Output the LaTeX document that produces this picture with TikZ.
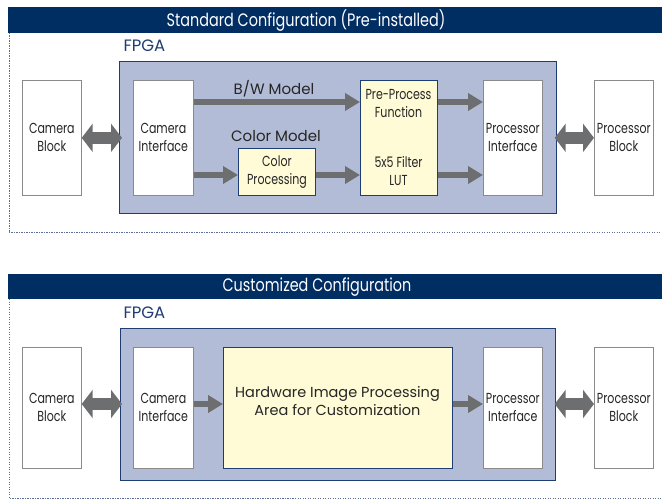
\documentclass[tikz,border=0pt]{standalone}
\usepackage{fontspec}
\setmainfont{Poppins}
\newfontfamily\narrowfont[FakeStretch=0.8]{Poppins}
\newfontfamily\boxnarrowfont[FakeStretch=0.76]{Poppins}
\usetikzlibrary{arrows.meta,positioning}
\definecolor{navy}{HTML}{002D62}
\definecolor{fpgafill}{HTML}{B3BCD6}
\definecolor{fpgaline}{HTML}{1E3D73}
\definecolor{ylwfill}{HTML}{FFFBD6}
\definecolor{arrowgray}{HTML}{6D6E70}
\definecolor{boxgray}{HTML}{8A8A8A}
\definecolor{dotcol}{HTML}{5A6E99}
\tikzset{
  boxfont/.style={font=\boxnarrowfont\fontsize{14.5}{18}\selectfont, text=black!85},
  blk/.style={draw=boxgray, fill=white, line width=0.7pt, minimum width=59pt, minimum height=115pt,
    inner sep=0pt, align=center, anchor=north west, boxfont},
  ylwblk/.style={blk, draw=fpgaline, fill=ylwfill, line width=0.9pt},
  fpgabox/.style={draw=fpgaline, fill=fpgafill, line width=1pt, minimum width=437pt,
    minimum height=152pt, inner sep=0pt, anchor=north west},
  fpgalbl/.style={anchor=west, text=fpgaline, font=\fontsize{16.5}{18}\selectfont},
  hdrtxt/.style={text=white, font=\narrowfont\fontsize{18}{20}\selectfont},
  modellbl/.style={text=black!85, font=\fontsize{15}{17}\selectfont},
  frame/.style={dotcol, line width=1pt, dash pattern=on 1.2pt off 1.3pt},
  dblarrow/.style={arrowgray, line width=12pt,
    {Triangle[width=28pt,length=11pt]}-{Triangle[width=28pt,length=11pt]}},
  flowarrow/.style={arrowgray, line width=5.5pt, -{Triangle[width=17pt,length=15pt]}},
}
\begin{document}
\begin{tikzpicture}[x=1pt, y=-1pt, line join=miter]
  \useasboundingbox (0,0) rectangle (662,500);
  % --- standard configuration
  \fill[navy] (8,7) rectangle (662,33);
  \node[hdrtxt] (hdrA) at (306,20.5) {Standard Configuration (Pre-installed)};
  \draw[frame] (9,33) -- (9,233) -- (662,233);
  \node[fpgalbl] (fpgalblA) at (120,46) {FPGA};
  \node[fpgabox] (fpgaA) at (119,61) {};
  \node[blk] (camblkA) at (22,80) {Camera\\Block};
  \node[blk, minimum width=60pt] (camifA) at (133,80) {Camera\\Interface};
  \node[ylwblk, minimum width=77pt] (preA) at (360,80) {};
  \node[boxfont, align=center] (preupA) at (398.5,104) {Pre-Process\\Function};
  \node[boxfont, align=center] (prelowA) at (398.5,171) {5x5 Filter\\LUT};
  \node[ylwblk, minimum width=77pt, minimum height=47pt] (colprocA) at (238,148) {Color\\Processing};
  \node[blk] (procifA) at (483,80) {Processor\\Interface};
  \node[blk] (procblkA) at (594,80) {Processor\\Block};
  \node[modellbl] (bwlblA) at (274,89) {B/W Model};
  \node[modellbl] (collblA) at (276,136) {Color Model};
  \coordinate (bwA) at (0,102);
  \coordinate (clA) at (0,175);
  % ---
  \draw[dblarrow, shorten >=11pt] (camblkA.east) -- (camifA.west);
  \draw[dblarrow, shorten <=12pt] (procifA.east) -- (procblkA.west);
  \draw[flowarrow] (camifA.east |- bwA) -- (preA.west |- bwA);
  \draw[flowarrow] (camifA.east |- clA) -- (colprocA.west |- clA);
  \draw[flowarrow] (colprocA.east |- clA) -- (preA.west |- clA);
  \draw[flowarrow] (preA.east |- bwA) -- (procifA.west |- bwA);
  \draw[flowarrow] (preA.east |- clA) -- (procifA.west |- clA);
  % --- customized configuration
  \fill[navy] (8,274) rectangle (662,299);
  \node[hdrtxt] (hdrB) at (317,287) {Customized Configuration};
  \draw[frame] (9,299) -- (9,498) -- (662,498);
  \node[fpgalbl] (fpgalblB) at (120,313) {FPGA};
  \node[fpgabox, minimum width=435pt] (fpgaB) at (120,328) {};
  \node[blk, minimum height=121pt] (camblkB) at (22,347) {Camera\\Block};
  \node[blk, minimum width=60pt, minimum height=121pt] (camifB) at (133,347) {Camera\\Interface};
  \node[ylwblk, minimum width=229pt, minimum height=121pt] (hwB) at (223,347) {};
  \node[modellbl, align=center, font=\fontsize{14.5}{18}\selectfont] (hwtxtB) at (337.5,401) {Hardware Image Processing\\Area for Customization};
  \node[blk, minimum height=121pt] (procifB) at (483,347) {Processor\\Interface};
  \node[blk, minimum height=121pt] (procblkB) at (594,347) {Processor\\Block};
  \coordinate (midB) at (0,404);
  % ---
  \draw[dblarrow, shorten >=11pt] (camblkB.east |- midB) -- (camifB.west |- midB);
  \draw[dblarrow, shorten <=12pt] (procifB.east |- midB) -- (procblkB.west |- midB);
  \draw[flowarrow] (camifB.east |- midB) -- (hwB.west |- midB);
  \draw[flowarrow] (hwB.east |- midB) -- (procifB.west |- midB);
\end{tikzpicture}
\end{document}
